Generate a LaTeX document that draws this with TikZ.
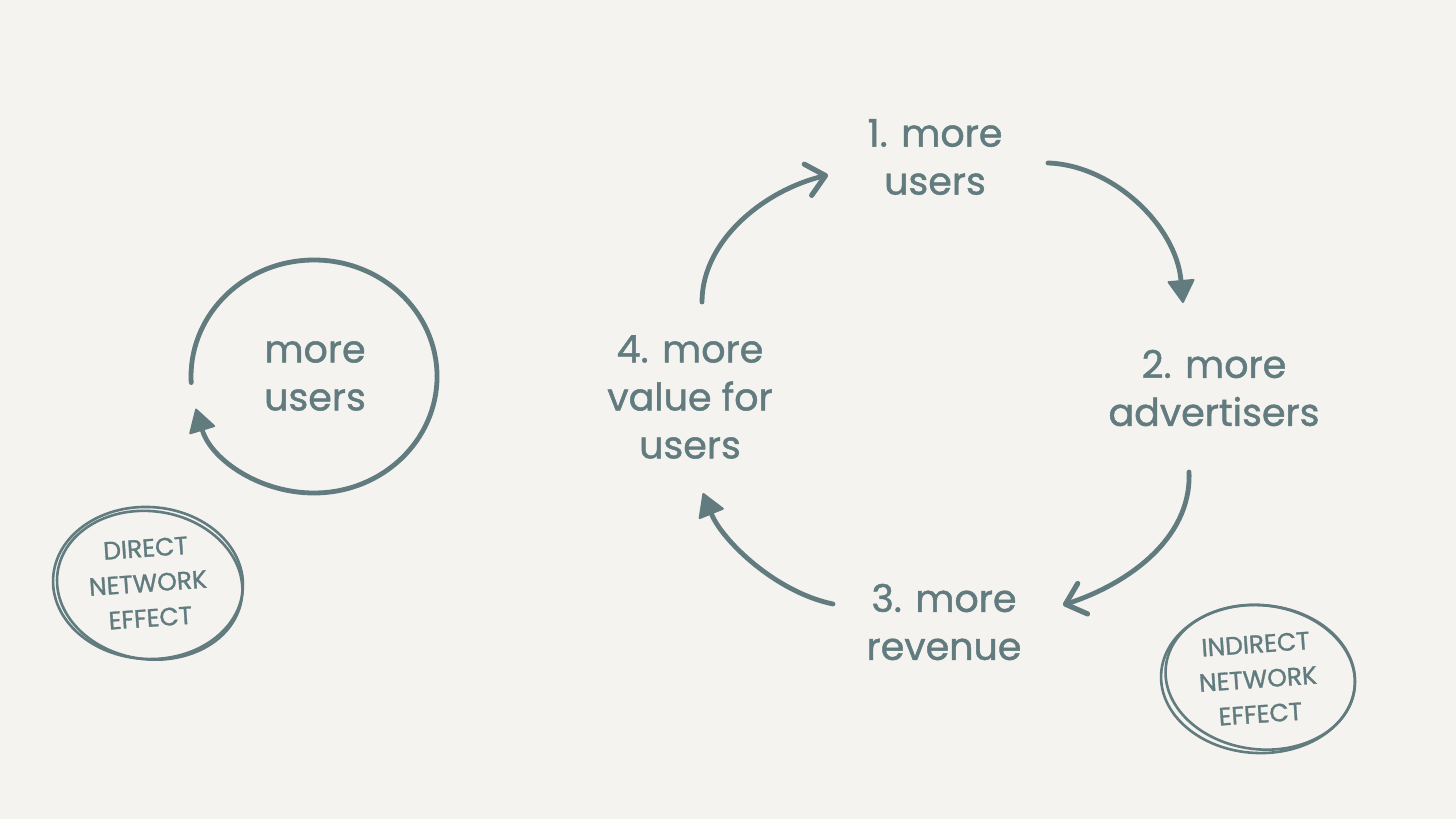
\documentclass[tikz,border=0pt]{standalone}
\usepackage{fontspec}
\setmainfont{Poppins}[FakeBold=1.2]
\usetikzlibrary{arrows.meta}
\definecolor{ink}{HTML}{617B7F}
\definecolor{paper}{HTML}{F4F3EF}
\begin{document}
\begin{tikzpicture}[x=0.5pt,y=-0.5pt,
  lbl/.style={text=ink,font=\fontsize{19}{24}\selectfont,align=center,inner sep=0pt},
  badgetext/.style={text=ink,font=\fontsize{12.5}{17.5}\selectfont,align=center,inner sep=0pt,rotate=4},
  flow/.style={draw=ink,line width=2.4pt,line cap=round,line join=round},
  ring/.style={draw=ink,line width=1.3pt},
  opentip/.style={-{Straight Barb[length=9pt,width=16pt,line width=2.6pt,round]}},
  filltip/.style={-{Triangle[length=12pt,width=14pt,round,line width=1pt]}}]
\fill[paper] (0,0) rectangle (1456,819);
\useasboundingbox (0,0) rectangle (1456,819);

% left: direct network effect
\node[lbl] (du) at (315,376) {more\\users};
\coordinate (dus) at (191.2,382.6);
\draw[flow,filltip] (dus) arc[start angle=177,end angle=524,x radius=123,y radius=116.5];

\node[badgetext] (dne) at (148,583) {DIRECT\\NETWORK\\EFFECT};
\draw[ring,rotate around={-3:(dne.center)}] (dne.center) ellipse[x radius=95,y radius=76];
\draw[ring,rotate around={-8:(dne.center)}] ([xshift=1,yshift=-1]dne.center) ellipse[x radius=93,y radius=74];

% right: indirect cycle
\node[lbl] (n1) at (935,157) {1. more\\users};
\node[lbl] (n2) at (1214,388) {2. more\\advertisers};
\node[lbl] (n3) at (944,622) {3. more\\revenue};
\node[lbl] (n4) at (690,397) {4. more\\value for\\users};

\coordinate (a1s) at (702,302);
\coordinate (a1e) at (828,175);
\coordinate (a2s) at (1048,163);
\coordinate (a2e) at (1183,303);
\coordinate (a3s) at (1189,472);
\coordinate (a3e) at (1063,605);
\coordinate (a4s) at (833,604);
\coordinate (a4e) at (703,493);

\draw[flow,opentip] (a1s) .. controls (702,240) and (765,190) .. (a1e);
\draw[flow,filltip] (a2s) .. controls (1112,165) and (1176,225) .. (a2e);
\draw[flow,opentip] (a3s) .. controls (1192,540) and (1125,585) .. (a3e);
\draw[flow,filltip] (a4s) .. controls (775,592) and (722,540) .. (a4e);

\node[badgetext] (ine) at (1258,679) {INDIRECT\\NETWORK\\EFFECT};
\draw[ring,rotate around={-3:(ine.center)}] (ine.center) ellipse[x radius=97,y radius=74];
\draw[ring,rotate around={-7:(ine.center)}] ([xshift=1,yshift=1]ine.center) ellipse[x radius=95,y radius=72];
\end{tikzpicture}
\end{document}
